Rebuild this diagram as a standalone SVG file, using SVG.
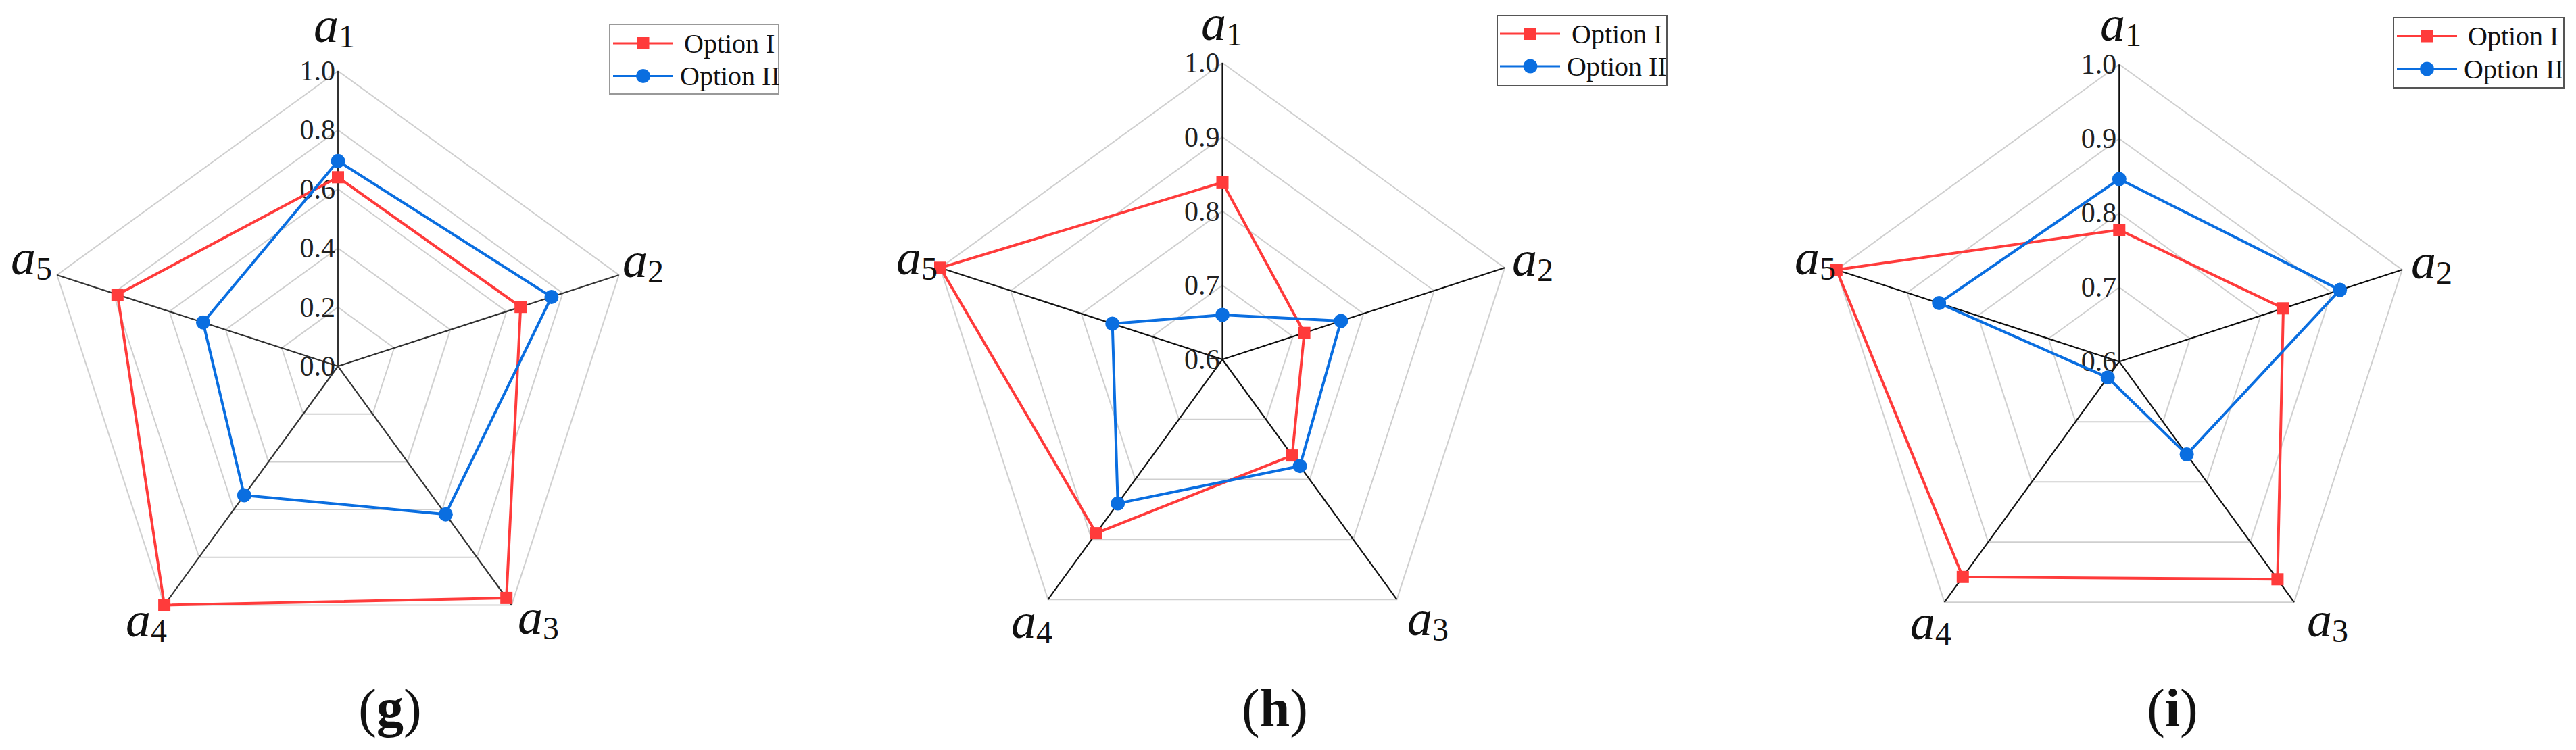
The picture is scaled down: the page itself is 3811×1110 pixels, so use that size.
<svg xmlns="http://www.w3.org/2000/svg" xmlns:xlink="http://www.w3.org/1999/xlink" width="3811" height="1110" viewBox="0 0 3811 1110">
<style>
.axis{stroke:#333;stroke-width:2.2}
.ser1{fill:none;stroke:#ff3b3b;stroke-width:4;stroke-linejoin:round}
.ser2{fill:none;stroke:#0a6ee0;stroke-width:4;stroke-linejoin:round}
.tick{font-family:"Liberation Serif",serif;font-size:42px;fill:#222;text-anchor:end}
.lab{font-family:"Liberation Serif",serif;font-style:italic;font-size:74px;fill:#111}
.sub{font-style:normal;font-size:48px}
.leg{font-family:"Liberation Serif",serif;font-size:40px;fill:#111}
.legbox{fill:#fff;stroke:#999;stroke-width:2}
.cap{font-family:"Liberation Serif",serif;font-size:80px;fill:#111;text-anchor:middle}
</style>
<defs>
<polygon id="pent" points="0,-1 0.9511,-0.309 0.5878,0.809 -0.5878,0.809 -0.9511,-0.309" fill="none" stroke="#cfcfcf" stroke-width="2" vector-effect="non-scaling-stroke"/>
<rect id="sq" x="-9" y="-9" width="18" height="18" fill="#ff3b3b"/>
<circle id="ci" r="10.5" fill="#0a6ee0"/>
</defs>
<rect width="3811" height="1110" fill="#fff"/>

<g id="chart-g" transform="translate(500,542)">
<use xlink:href="#pent" transform="scale(87.4)"/>
<use xlink:href="#pent" transform="scale(174.8)"/>
<use xlink:href="#pent" transform="scale(262.2)"/>
<use xlink:href="#pent" transform="scale(349.6)"/>
<use xlink:href="#pent" transform="scale(437)"/>
<g class="axis"><line x1="0" y1="0" x2="0" y2="-437"/><line x1="0" y1="0" x2="415.6" y2="-135"/><line x1="0" y1="0" x2="256.9" y2="353.5"/><line x1="0" y1="0" x2="-256.9" y2="353.5"/><line x1="0" y1="0" x2="-415.6" y2="-135"/></g>
<text class="tick" x="-4" y="14">0.0</text><text class="tick" x="-4" y="-73.4">0.2</text><text class="tick" x="-4" y="-160.8">0.4</text><text class="tick" x="-4" y="-248.2">0.6</text><text class="tick" x="-4" y="-335.6">0.8</text><text class="tick" x="-4" y="-423">1.0</text>
<polygon class="ser1" points="0,-279.7 270.2,-87.8 249.2,342.9 -256.9,353.5 -326.2,-106"/>
<polygon class="ser2" points="0,-303.7 315.9,-102.6 159.3,219.2 -138.7,190.9 -199.5,-64.8"/>
<use xlink:href="#sq" x="0" y="-279.7"/><use xlink:href="#sq" x="270.2" y="-87.8"/><use xlink:href="#sq" x="249.2" y="342.9"/><use xlink:href="#sq" x="-256.9" y="353.5"/><use xlink:href="#sq" x="-326.2" y="-106"/>
<use xlink:href="#ci" x="0" y="-303.7"/><use xlink:href="#ci" x="315.9" y="-102.6"/><use xlink:href="#ci" x="159.3" y="219.2"/><use xlink:href="#ci" x="-138.7" y="190.9"/><use xlink:href="#ci" x="-199.5" y="-64.8"/>
</g>
<g id="labels-g">
<text class="lab" x="464" y="62">a<tspan class="sub" dy="8">1</tspan></text>
<text class="lab" x="921" y="410">a<tspan class="sub" dy="8">2</tspan></text>
<text class="lab" x="766" y="938">a<tspan class="sub" dy="8">3</tspan></text>
<text class="lab" x="186" y="942">a<tspan class="sub" dy="8">4</tspan></text>
<text class="lab" x="16" y="406">a<tspan class="sub" dy="8">5</tspan></text>
<text class="cap" x="577" y="1075">(<tspan font-weight="bold">g</tspan>)</text>
</g>
<g id="legend-g">
<rect class="legbox" x="902" y="36" width="250" height="103"/>
<line x1="907" y1="64" x2="995" y2="64" stroke="#ff3b3b" stroke-width="3"/><use xlink:href="#sq" x="951.5" y="64"/>
<line x1="907" y1="112.5" x2="995" y2="112.5" stroke="#0a6ee0" stroke-width="3"/><use xlink:href="#ci" x="951.5" y="112.5"/>
<text class="leg" x="1012" y="78">Option I</text><text class="leg" x="1006" y="126">Option II</text>
</g>

<g id="chart-h" transform="translate(1808.5,532)">
<use xlink:href="#pent" transform="scale(109.75)"/>
<use xlink:href="#pent" transform="scale(219.5)"/>
<use xlink:href="#pent" transform="scale(329.25)"/>
<use xlink:href="#pent" transform="scale(439)"/>
<g class="axis" style="stroke:#111"><line x1="0" y1="0" x2="0" y2="-439"/><line x1="0" y1="0" x2="417.5" y2="-135.7"/><line x1="0" y1="0" x2="258" y2="355.2"/><line x1="0" y1="0" x2="-258" y2="355.2"/><line x1="0" y1="0" x2="-417.5" y2="-135.7"/></g>
<text class="tick" x="-4" y="14">0.6</text><text class="tick" x="-4" y="-95.75">0.7</text><text class="tick" x="-4" y="-205.5">0.8</text><text class="tick" x="-4" y="-315.25">0.9</text><text class="tick" x="-4" y="-425">1.0</text>
<polygon class="ser1" points="0,-262.1 121.1,-39.3 103.2,142.1 -186.8,257.1 -417.5,-135.7"/>
<polygon class="ser2" points="0,-65.9 175.4,-57 114.6,157.7 -154.8,213.1 -162.8,-52.9"/>
<use xlink:href="#sq" x="0" y="-262.1"/><use xlink:href="#sq" x="121.1" y="-39.3"/><use xlink:href="#sq" x="103.2" y="142.1"/><use xlink:href="#sq" x="-186.8" y="257.1"/><use xlink:href="#sq" x="-417.5" y="-135.7"/>
<use xlink:href="#ci" x="0" y="-65.9"/><use xlink:href="#ci" x="175.4" y="-57"/><use xlink:href="#ci" x="114.6" y="157.7"/><use xlink:href="#ci" x="-154.8" y="213.1"/><use xlink:href="#ci" x="-162.8" y="-52.9"/>
</g>
<g id="labels-h">
<text class="lab" x="1777" y="59">a<tspan class="sub" dy="8">1</tspan></text>
<text class="lab" x="2237" y="408">a<tspan class="sub" dy="8">2</tspan></text>
<text class="lab" x="2082" y="940">a<tspan class="sub" dy="8">3</tspan></text>
<text class="lab" x="1496" y="944">a<tspan class="sub" dy="8">4</tspan></text>
<text class="lab" x="1326" y="406">a<tspan class="sub" dy="8">5</tspan></text>
<text class="cap" x="1886" y="1075">(<tspan font-weight="bold">h</tspan>)</text>
</g>
<g id="legend-h">
<rect class="legbox" x="2215" y="23" width="251" height="104" style="stroke:#555"/>
<line x1="2219" y1="50" x2="2308" y2="50" stroke="#ff3b3b" stroke-width="3"/><use xlink:href="#sq" x="2264" y="50"/>
<line x1="2219" y1="98" x2="2308" y2="98" stroke="#0a6ee0" stroke-width="3"/><use xlink:href="#ci" x="2264" y="98"/>
<text class="leg" x="2325" y="64">Option I</text><text class="leg" x="2318" y="112">Option II</text>
</g>

<g id="chart-i" transform="translate(3135.3,535.2)">
<use xlink:href="#pent" transform="scale(110)"/>
<use xlink:href="#pent" transform="scale(220)"/>
<use xlink:href="#pent" transform="scale(330)"/>
<use xlink:href="#pent" transform="scale(440)"/>
<g class="axis" style="stroke:#111"><line x1="0" y1="0" x2="0" y2="-440"/><line x1="0" y1="0" x2="418.5" y2="-136"/><line x1="0" y1="0" x2="258.6" y2="356"/><line x1="0" y1="0" x2="-258.6" y2="356"/><line x1="0" y1="0" x2="-418.5" y2="-136"/></g>
<text class="tick" x="-4" y="14">0.6</text><text class="tick" x="-4" y="-96">0.7</text><text class="tick" x="-4" y="-206">0.8</text><text class="tick" x="-4" y="-316">0.9</text><text class="tick" x="-4" y="-426">1.0</text>
<polygon class="ser1" points="0,-194.9 242.7,-78.9 234.1,322.1 -231.5,318.6 -418.5,-136"/>
<polygon class="ser2" points="0,-270.2 326.4,-106.1 99.8,137.4 -17.1,23.5 -266.6,-86.6"/>
<use xlink:href="#sq" x="0" y="-194.9"/><use xlink:href="#sq" x="242.7" y="-78.9"/><use xlink:href="#sq" x="234.1" y="322.1"/><use xlink:href="#sq" x="-231.5" y="318.6"/><use xlink:href="#sq" x="-418.5" y="-136"/>
<use xlink:href="#ci" x="0" y="-270.2"/><use xlink:href="#ci" x="326.4" y="-106.1"/><use xlink:href="#ci" x="99.8" y="137.4"/><use xlink:href="#ci" x="-17.1" y="23.5"/><use xlink:href="#ci" x="-266.6" y="-86.6"/>
</g>
<g id="labels-i">
<text class="lab" x="3107" y="60">a<tspan class="sub" dy="8">1</tspan></text>
<text class="lab" x="3567" y="412">a<tspan class="sub" dy="8">2</tspan></text>
<text class="lab" x="3413" y="942">a<tspan class="sub" dy="8">3</tspan></text>
<text class="lab" x="2826" y="946">a<tspan class="sub" dy="8">4</tspan></text>
<text class="lab" x="2655" y="406">a<tspan class="sub" dy="8">5</tspan></text>
<text class="cap" x="3214" y="1075">(<tspan font-weight="bold">i</tspan>)</text>
</g>
<g id="legend-i">
<rect class="legbox" x="3541" y="26" width="252" height="104" style="stroke:#555"/>
<line x1="3546" y1="53.5" x2="3635" y2="53.5" stroke="#ff3b3b" stroke-width="3"/><use xlink:href="#sq" x="3590.5" y="53.5"/>
<line x1="3546" y1="102" x2="3635" y2="102" stroke="#0a6ee0" stroke-width="3"/><use xlink:href="#ci" x="3590.5" y="102"/>
<text class="leg" x="3651" y="67">Option I</text><text class="leg" x="3645" y="116">Option II</text>
</g>
</svg>
